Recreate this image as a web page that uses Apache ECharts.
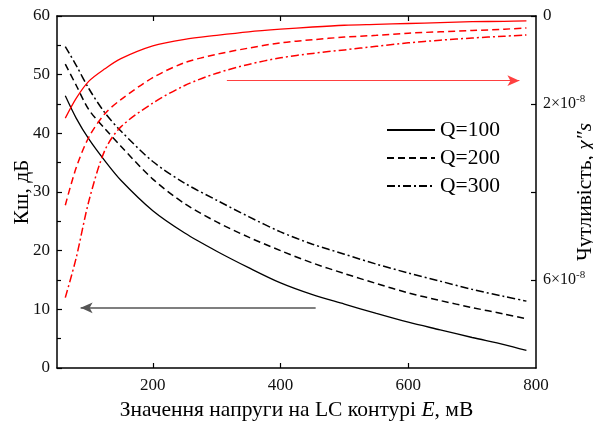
<!DOCTYPE html>
<html>
<head>
<meta charset="utf-8">
<script src="https://cdn.jsdelivr.net/npm/echarts@6/dist/echarts.min.js"></script>
<style>
  html, body { margin: 0; padding: 0; background: #fff; }
  #chart { width: 593px; height: 423px; }
</style>
</head>
<body>
<div id="chart"></div>
<script>
// LC-circuit voltage E, mV
const voltage = [63, 80, 100, 125, 150, 200, 250, 300, 350, 400, 450, 500, 550, 600, 650, 700, 750, 785];

// Gain Kш, dB (left axis)
const kshQ100 = [46.4, 42.6, 39.0, 35.3, 32.0, 26.8, 23.0, 19.9, 17.1, 14.5, 12.5, 10.9, 9.3, 7.8, 6.5, 5.2, 4.0, 3.0];
const kshQ200 = [51.8, 48.2, 44.0, 40.8, 37.8, 32.2, 28.0, 24.9, 22.3, 20.0, 17.9, 16.1, 14.4, 12.8, 11.5, 10.3, 9.2, 8.4];
const kshQ300 = [54.8, 51.6, 47.6, 43.5, 40.4, 35.2, 31.5, 28.6, 25.8, 23.2, 21.1, 19.4, 17.7, 16.2, 14.8, 13.4, 12.2, 11.4];

// Sensitivity χ''s in units of 1e-8 (right axis, inverted)
const sensQ100 = [2.32, 1.87, 1.48, 1.20, 0.97, 0.68, 0.53, 0.44, 0.36, 0.30, 0.25, 0.21, 0.19, 0.17, 0.15, 0.13, 0.12, 0.11];
const sensQ200 = [4.30, 3.45, 2.75, 2.22, 1.90, 1.40, 1.06, 0.87, 0.73, 0.61, 0.54, 0.48, 0.44, 0.39, 0.36, 0.33, 0.30, 0.27];
const sensQ300 = [6.40, 5.50, 4.20, 3.05, 2.52, 1.98, 1.58, 1.30, 1.10, 0.95, 0.85, 0.77, 0.69, 0.61, 0.55, 0.50, 0.46, 0.43];

const seriesNames = ['Q=100', 'Q=200', 'Q=300'];

// Axis ticks and labels
const xTickValues = [200, 400, 600];
const xLabelValues = [200, 400, 600, 800];
const rightTickValues = [0, 2, 4, 6];
const rightLabelValues = [0, 2, 6];

// Arrows pointing to each curve family's axis: [E start, E end, level]
const gainArrow = [455, 87, 10.25];
const sensArrow = [316, 774, 1.47];

const FONT = 'Liberation Serif';
const NAME_SIZE = 21.5;
const dashPattern = [7, 4];
const dashDotPattern = [8, 3, 2, 3];

function pairs(ys) { return voltage.map((x, i) => [x, ys[i]]); }

function lineSeries(name, ys, yAxisIndex, color, type, width) {
  return {
    name: name,
    type: 'line',
    xAxisIndex: 0,
    yAxisIndex: yAxisIndex,
    data: pairs(ys),
    smooth: 0.3,
    symbol: 'none',
    silent: true,
    lineStyle: { color: color, width: width, type: type },
    itemStyle: { color: color },
    z: 3
  };
}

const series = [
  lineSeries('Q=100', kshQ100, 0, '#000', 'solid', 1.3),
  lineSeries('Q=200', kshQ200, 0, '#000', dashPattern, 1.5),
  lineSeries('Q=300', kshQ300, 0, '#000', dashDotPattern, 1.5),
  lineSeries('sens100', sensQ100, 1, '#ff0000', 'solid', 1.3),
  lineSeries('sens200', sensQ200, 1, '#ff0000', dashPattern, 1.5),
  lineSeries('sens300', sensQ300, 1, '#ff0000', dashDotPattern, 1.5)
];

series[0].markLine = {
  silent: true,
  symbol: ['none', 'arrow'],
  symbolSize: [8, 12],
  label: { show: false },
  lineStyle: { color: '#555', width: 1.5, type: 'solid' },
  data: [[{ coord: [gainArrow[0], gainArrow[2]] }, { coord: [gainArrow[1], gainArrow[2]] }]]
};
series[3].markLine = {
  silent: true,
  symbol: ['none', 'arrow'],
  symbolSize: [8, 12],
  label: { show: false },
  lineStyle: { color: '#ff4040', width: 1.2, type: 'solid' },
  data: [[{ coord: [sensArrow[0], sensArrow[2]] }, { coord: [sensArrow[1], sensArrow[2]] }]]
};

const axisLineStyle = { color: '#000', width: 1.5 };
const tickStyle = { color: '#000', width: 1.2 };
const labelStyle = { fontFamily: FONT, fontSize: 17, color: '#111' };

const option = {
  animation: false,
  backgroundColor: '#fff',
  grid: { left: 57, right: 57, top: 16, bottom: 55, containLabel: false, outerBoundsMode: 'none' },
  legend: {
    data: seriesNames,
    orient: 'vertical',
    left: 381,
    top: 114,
    itemWidth: 48,
    itemHeight: 12,
    itemGap: 6,
    selectedMode: false,
    itemStyle: { opacity: 0 },
    textStyle: { fontFamily: FONT, fontSize: 21.5, color: '#000' }
  },
  xAxis: [
    {
      type: 'value',
      position: 'bottom',
      min: 50,
      max: 800,
      axisLine: { show: true, onZero: false, lineStyle: axisLineStyle },
      axisTick: { show: true, inside: true, length: 5, lineStyle: tickStyle, customValues: xTickValues },
      axisLabel: Object.assign({ margin: 9, customValues: xLabelValues }, labelStyle),
      splitLine: { show: false },
      name: 'Значення напруги на LC контурі {i|E}, мВ',
      nameLocation: 'middle',
      nameGap: 31,
      nameTextStyle: {
        fontFamily: FONT, fontSize: NAME_SIZE, color: '#000',
        rich: { i: { fontFamily: FONT, fontSize: NAME_SIZE, fontStyle: 'italic', color: '#000' } }
      }
    },
    {
      type: 'value',
      position: 'top',
      min: 50,
      max: 800,
      axisLine: { show: true, onZero: false, lineStyle: axisLineStyle },
      axisTick: { show: true, inside: true, length: 5, lineStyle: tickStyle, customValues: xTickValues },
      axisLabel: { show: false },
      splitLine: { show: false }
    }
  ],
  yAxis: [
    {
      type: 'value',
      position: 'left',
      min: 0,
      max: 60,
      interval: 10,
      axisLine: { show: true, onZero: false, lineStyle: axisLineStyle },
      axisTick: { show: true, inside: true, length: 5, lineStyle: tickStyle },
      minorTick: { show: true, splitNumber: 2, length: 4, lineStyle: tickStyle },
      axisLabel: Object.assign({ margin: 7 }, labelStyle),
      splitLine: { show: false },
      name: 'Кш, дБ',
      nameLocation: 'middle',
      nameGap: 24,
      nameMoveOverlap: false,
      nameTextStyle: { fontFamily: FONT, fontSize: NAME_SIZE, color: '#000' }
    },
    {
      type: 'value',
      position: 'right',
      min: 0,
      max: 8,
      inverse: true,
      axisLine: { show: true, onZero: false, lineStyle: axisLineStyle },
      axisTick: { show: true, inside: true, length: 5, lineStyle: tickStyle, customValues: rightTickValues },
      axisLabel: Object.assign({
        margin: 7,
        customValues: rightLabelValues,
        formatter: function (v) { return v === 0 ? '0' : '{b|' + v + '×10}{s|-8}'; },
        rich: {
          b: { fontFamily: FONT, fontSize: 16, color: '#111' },
          s: { fontFamily: FONT, fontSize: 11, color: '#111', padding: [0, 0, 9, 0] }
        }
      }, labelStyle),
      splitLine: { show: false },
      name: 'Чутливість, {i|χ″s}',
      nameLocation: 'middle',
      nameRotate: 90,
      nameGap: 38,
      nameMoveOverlap: false,
      nameTextStyle: {
        fontFamily: FONT, fontSize: NAME_SIZE, color: '#000',
        rich: { i: { fontFamily: FONT, fontSize: NAME_SIZE, fontStyle: 'italic', color: '#000' } }
      }
    }
  ],
  series: series
};

const chart = echarts.init(document.getElementById('chart'), null, { renderer: 'canvas' });
chart.setOption(option);
</script>
</body>
</html>
